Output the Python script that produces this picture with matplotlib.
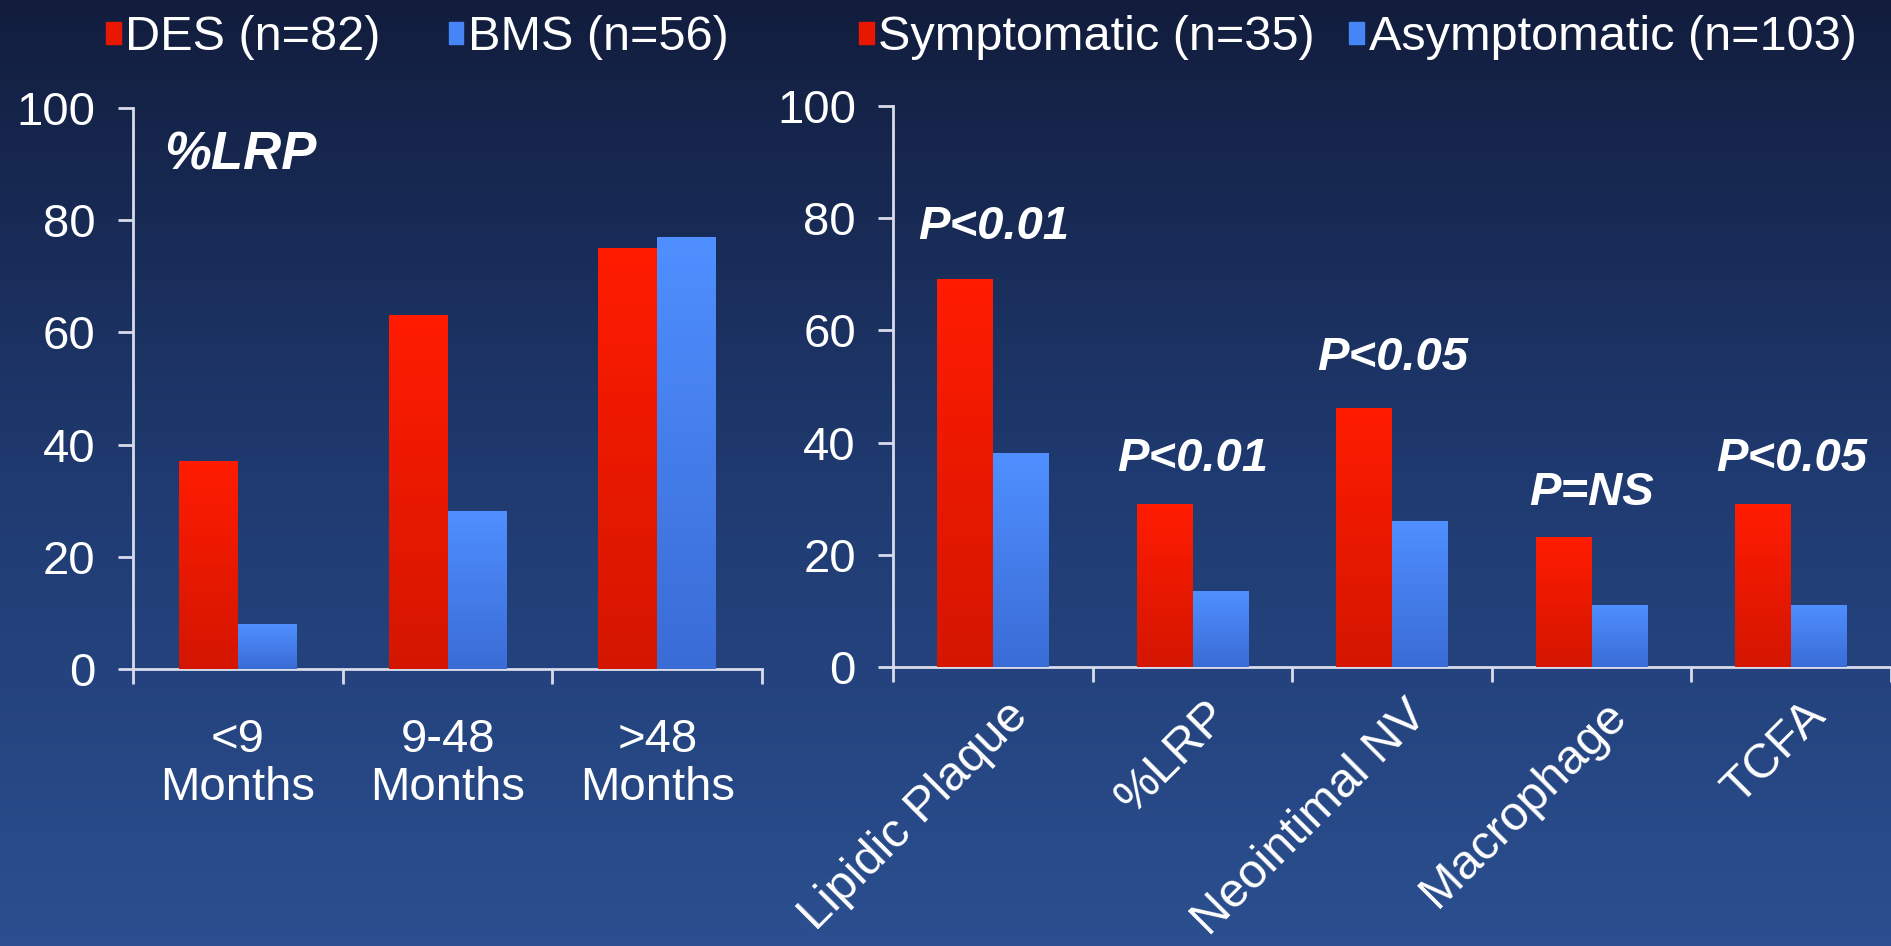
import numpy as np
import matplotlib
matplotlib.use("Agg")
import matplotlib.pyplot as plt
from matplotlib.colors import LinearSegmentedColormap
from matplotlib.patches import Patch
from matplotlib.transforms import ScaledTranslation

plt.rcParams['font.family'] = ['Liberation Sans', 'DejaVu Sans']

# data
months = ["<9\nMonths", "9-48\nMonths", ">48\nMonths"]
des = [37, 63, 75]
bms = [8, 28, 77]

features = ["Lipidic Plaque", "%LRP", "Neointimal NV", "Macrophage", "TCFA"]
symptomatic = [69, 29, 46, 23, 29]
asymptomatic = [38, 13.5, 26, 11, 11]
p_text = ["P<0.01", "P<0.01", "P<0.05", "P=NS", "P<0.05"]
p_y = [78.5, 37, 55, 31, 37]

RED = "#f01800"
BLUE = "#4585f5"
red_cm = LinearSegmentedColormap.from_list("r", ["#d41600", "#ff1c00"])
blue_cm = LinearSegmentedColormap.from_list("b", ["#3a6cd6", "#4f8fff"])
LINE = "#d8dcea"
FS = 34

fig = plt.figure(figsize=(18.91, 9.46), dpi=100)

# background gradient
bg = fig.add_axes([0, 0, 1, 1], zorder=-10)
bg_cm = LinearSegmentedColormap.from_list("bg", ["#2b4f90", "#1f3a70", "#121d3d"])
bg.imshow(np.linspace(0, 1, 256).reshape(-1, 1), cmap=bg_cm, aspect="auto",
          extent=[0, 1, 0, 1], origin="lower")
bg.axis("off")


def grad_bars(ax, bars, cmap):
    g = np.linspace(0, 1, 100).reshape(-1, 1)
    for b in bars:
        x0, y0 = b.get_x(), b.get_y()
        ax.imshow(g, cmap=cmap, aspect="auto", origin="lower",
                  extent=[x0, x0 + b.get_width(), y0, y0 + b.get_height()], zorder=3)
        b.set_alpha(0)


def style(ax, n):
    ax.set_facecolor("none")
    ax.set_xlim(-0.5, n - 0.5)
    ax.set_ylim(0, 100)
    for s in ["top", "right"]:
        ax.spines[s].set_visible(False)
    for s in ["left", "bottom"]:
        ax.spines[s].set_color(LINE)
        ax.spines[s].set_linewidth(2)
    ax.set_yticks(range(0, 101, 20))
    ax.tick_params(axis="y", direction="out", length=11, width=2, color=LINE,
                   labelcolor="white", labelsize=FS, pad=16)
    ax.set_xticks(np.arange(n))
    ax.set_xticks(np.arange(n + 1) - 0.5, minor=True)
    ax.tick_params(axis="x", which="major", length=0, labelcolor="white", labelsize=FS)
    ax.tick_params(axis="x", which="minor", direction="out", length=11, width=2, color=LINE)


w = 0.28

# left chart
ax1 = fig.add_axes([0.0703, 0.2928, 0.3327, 0.593])
x = np.arange(len(months))
b1 = ax1.bar(x - w / 2, des, w, color=RED, zorder=2)
b2 = ax1.bar(x + w / 2, bms, w, color=BLUE, zorder=2)
grad_bars(ax1, b1, red_cm)
grad_bars(ax1, b2, blue_cm)
style(ax1, len(months))
ax1.set_xticklabels(months, linespacing=1.12)
ax1.tick_params(axis="x", which="major", pad=35)
ax1.text(-0.35, 91.5, "%LRP", color="white", fontsize=38, fontweight="bold",
         fontstyle="italic", va="center", ha="left")

# right chart
ax2 = fig.add_axes([0.4725, 0.2949, 0.5275, 0.593])
x = np.arange(len(features))
b3 = ax2.bar(x - w / 2, symptomatic, w, color=RED, zorder=2)
b4 = ax2.bar(x + w / 2, asymptomatic, w, color=BLUE, zorder=2)
grad_bars(ax2, b3, red_cm)
grad_bars(ax2, b4, blue_cm)
style(ax2, len(features))
ax2.set_xticklabels(features, rotation=45, ha="right", va="center",
                    rotation_mode="anchor", fontsize=35)
ax2.tick_params(axis="x", which="major", pad=30)
off = ScaledTranslation(0.28, 0, fig.dpi_scale_trans)
for lab in ax2.get_xticklabels():
    lab.set_transform(lab.get_transform() + off)
for i, t in enumerate(p_text):
    ax2.text(i, p_y[i], t, color="white", fontsize=FS, fontweight="bold",
             fontstyle="italic", ha="center", va="center", zorder=5)

# legends
leg_kw = dict(frameon=False, ncol=2, fontsize=35, labelcolor="white",
              handlelength=0.3, handleheight=0.3, handletextpad=0.1,
              borderpad=0, borderaxespad=0, loc="center left")
fig.legend(handles=[Patch(color="#e81800", label="DES (n=82)"),
                    Patch(color=BLUE, label="BMS (n=56)")],
           bbox_to_anchor=(106 / 1891, 1 - 38 / 946), columnspacing=1.4, **leg_kw)
fig.legend(handles=[Patch(color="#e81800", label="Symptomatic (n=35)"),
                    Patch(color=BLUE, label="Asymptomatic (n=103)")],
           bbox_to_anchor=(859 / 1891, 1 - 38 / 946), columnspacing=0.7, **leg_kw)

fig.savefig("out.png", dpi=100)
